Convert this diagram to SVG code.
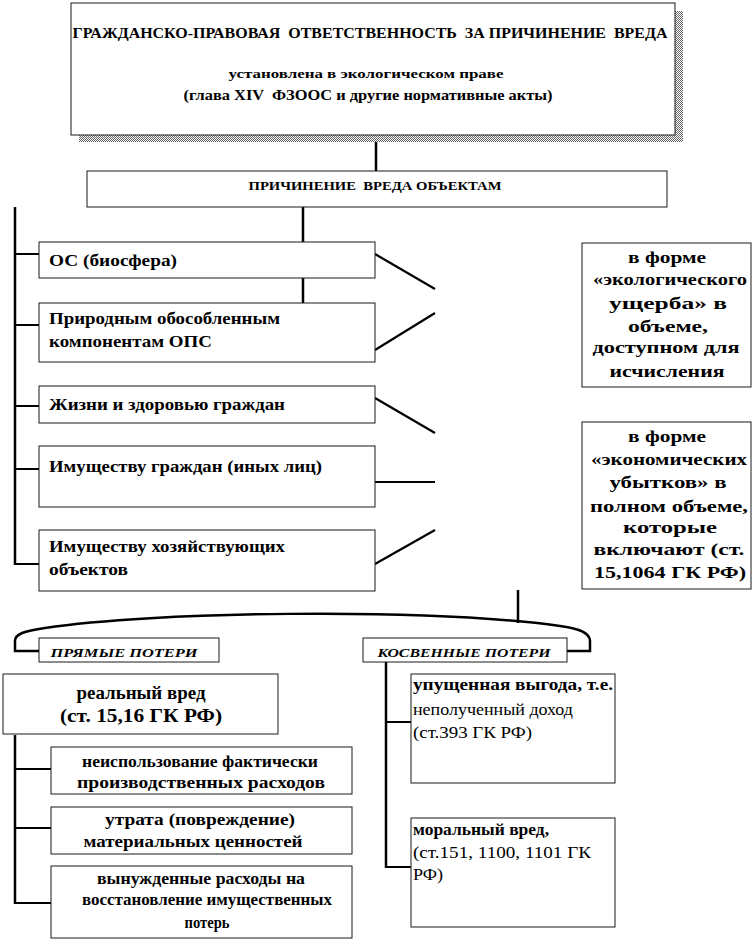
<svg xmlns="http://www.w3.org/2000/svg" width="753" height="941" viewBox="0 0 753 941">
<defs>
<pattern id="shade" width="2" height="2" patternUnits="userSpaceOnUse">
<rect width="2" height="2" fill="#ffffff"/>
<rect width="1" height="1" fill="#666666"/>
<rect x="1" y="1" width="1" height="1" fill="#666666"/>
</pattern>
</defs>
<style>
.box{fill:#ffffff;stroke:#1a1a1a;stroke-width:1}
.t{font-weight:bold;fill:#000000}
.n{font-weight:normal}
.i{font-style:italic}
.c{text-anchor:middle}
.ln{fill:none;stroke:#000000;stroke-width:2.5;stroke-linecap:butt}
.dg{fill:none;stroke:#000000;stroke-width:2.2}
.tk{fill:none;stroke:#000000;stroke-width:2}
</style>
<g id="connectors">
<line class="ln" x1="376" y1="135" x2="376" y2="171"/>
<line class="ln" x1="303" y1="207" x2="303" y2="242"/>
<line class="ln" x1="303" y1="278" x2="303" y2="303"/>
<line class="ln" x1="15" y1="207" x2="15" y2="565"/>
<line class="tk" x1="15" y1="254" x2="39" y2="254"/>
<line class="tk" x1="15" y1="325" x2="39" y2="325"/>
<line class="tk" x1="15" y1="406" x2="39" y2="406"/>
<line class="tk" x1="15" y1="469" x2="39" y2="469"/>
<line class="tk" x1="15" y1="564" x2="39" y2="564"/>
<line class="dg" x1="375" y1="254" x2="435" y2="289"/>
<line class="dg" x1="375" y1="350" x2="435" y2="313"/>
<line class="dg" x1="375" y1="398" x2="435" y2="433"/>
<line class="dg" x1="375" y1="482" x2="435" y2="482"/>
<line class="dg" x1="375" y1="564" x2="435" y2="530"/>
<line class="ln" x1="518" y1="590" x2="518" y2="623"/>
<path class="ln" d="M39 651 L15 651 L15 641 C15 634 24 631 45 628 C150 612 420 607 560 626 C583 629 590 634 590 641 L590 651 L567 651"/>
<line class="ln" x1="15" y1="735" x2="15" y2="904"/>
<line class="tk" x1="15" y1="769" x2="51" y2="769"/>
<line class="tk" x1="15" y1="828" x2="51" y2="828"/>
<line class="tk" x1="15" y1="903" x2="51" y2="903"/>
<line class="ln" x1="386" y1="662" x2="386" y2="868"/>
<line class="tk" x1="386" y1="722" x2="411" y2="722"/>
<line class="tk" x1="386" y1="867" x2="411" y2="867"/>
</g>
<g font-family="Liberation Serif, Times New Roman, serif">
<g id="n_top">
<rect x="79" y="11" width="604" height="131" fill="url(#shade)"/>
<rect class="box" x="71" y="3" width="604" height="132"/>
<text class="t c" x="370" y="38" font-size="15" textLength="595" lengthAdjust="spacingAndGlyphs" xml:space="preserve">ГРАЖДАНСКО-ПРАВОВАЯ  ОТВЕТСТВЕННОСТЬ  ЗА ПРИЧИНЕНИЕ  ВРЕДА</text>
<text class="t c" x="366" y="78" font-size="13" textLength="275" lengthAdjust="spacingAndGlyphs">установлена в экологическом праве</text>
<text class="t c" x="368" y="100" font-size="14" textLength="369" lengthAdjust="spacingAndGlyphs" xml:space="preserve">(глава XIV  ФЗООС и другие нормативные акты)</text>
</g>
<g id="n_cause">
<rect class="box" x="87" y="171" width="580" height="36"/>
<text class="t c" x="375" y="190" font-size="12" textLength="253" lengthAdjust="spacingAndGlyphs" xml:space="preserve">ПРИЧИНЕНИЕ  ВРЕДА ОБЪЕКТАМ</text>
</g>
<g id="n_os">
<rect class="box" x="39" y="242" width="336" height="36"/>
<text class="t" x="49" y="266" font-size="17" textLength="128" lengthAdjust="spacingAndGlyphs">ОС (биосфера)</text>
</g>
<g id="n_nat">
<rect class="box" x="39" y="303" width="336" height="59"/>
<text class="t" x="49" y="324" font-size="17" textLength="231" lengthAdjust="spacingAndGlyphs">Природным обособленным</text>
<text class="t" x="49" y="347" font-size="17" textLength="163" lengthAdjust="spacingAndGlyphs">компонентам ОПС</text>
</g>
<g id="n_life">
<rect class="box" x="39" y="386" width="336" height="37"/>
<text class="t" x="49" y="410" font-size="17" textLength="236" lengthAdjust="spacingAndGlyphs">Жизни и здоровью граждан</text>
</g>
<g id="n_propc">
<rect class="box" x="39" y="446" width="336" height="61"/>
<text class="t" x="49" y="472" font-size="17" textLength="273" lengthAdjust="spacingAndGlyphs">Имуществу граждан (иных лиц)</text>
</g>
<g id="n_propb">
<rect class="box" x="39" y="530" width="336" height="61"/>
<text class="t" x="49" y="552" font-size="17" textLength="236" lengthAdjust="spacingAndGlyphs">Имуществу хозяйствующих</text>
<text class="t" x="49" y="575" font-size="17" textLength="79" lengthAdjust="spacingAndGlyphs">объектов</text>
</g>
<g id="n_eco">
<rect class="box" x="582" y="243" width="169" height="144"/>
<text class="t c" x="667" y="263" font-size="17" textLength="78" lengthAdjust="spacingAndGlyphs">в форме</text>
<text class="t c" x="670" y="285" font-size="17" textLength="154" lengthAdjust="spacingAndGlyphs">«экологического</text>
<text class="t c" x="668" y="309" font-size="17" textLength="118" lengthAdjust="spacingAndGlyphs">ущерба» в</text>
<text class="t c" x="668" y="332" font-size="17" textLength="80" lengthAdjust="spacingAndGlyphs">объеме,</text>
<text class="t c" x="666" y="353" font-size="17" textLength="147" lengthAdjust="spacingAndGlyphs">доступном для</text>
<text class="t c" x="667" y="377" font-size="17" textLength="115" lengthAdjust="spacingAndGlyphs">исчисления</text>
</g>
<g id="n_econ">
<rect class="box" x="582" y="422" width="169" height="167"/>
<text class="t c" x="667" y="442" font-size="17" textLength="78" lengthAdjust="spacingAndGlyphs">в форме</text>
<text class="t c" x="669" y="465" font-size="17" textLength="156" lengthAdjust="spacingAndGlyphs">«экономических</text>
<text class="t c" x="668" y="488" font-size="17" textLength="117" lengthAdjust="spacingAndGlyphs">убытков» в</text>
<text class="t c" x="669" y="512" font-size="17" textLength="158" lengthAdjust="spacingAndGlyphs">полном объеме,</text>
<text class="t c" x="670" y="533" font-size="17" textLength="94" lengthAdjust="spacingAndGlyphs">которые</text>
<text class="t c" x="669" y="555" font-size="17" textLength="151" lengthAdjust="spacingAndGlyphs">включают (ст.</text>
<text class="t c" x="670" y="578" font-size="17" textLength="152" lengthAdjust="spacingAndGlyphs">15,1064 ГК РФ)</text>
</g>
<g id="n_direct">
<rect class="box" x="39" y="638" width="180" height="24"/>
<text class="t i c" x="124" y="657" font-size="13" textLength="147" lengthAdjust="spacingAndGlyphs">ПРЯМЫЕ ПОТЕРИ</text>
</g>
<g id="n_indirect">
<rect class="box" x="363" y="638" width="204" height="24"/>
<text class="t i c" x="464" y="657" font-size="13" textLength="173" lengthAdjust="spacingAndGlyphs">КОСВЕННЫЕ ПОТЕРИ</text>
</g>
<g id="n_real">
<rect class="box" x="3" y="674" width="275" height="60"/>
<text class="t c" x="141" y="699" font-size="18" textLength="129" lengthAdjust="spacingAndGlyphs">реальный вред</text>
<text class="t c" x="141" y="722" font-size="18" textLength="162" lengthAdjust="spacingAndGlyphs">(ст. 15,16 ГК РФ)</text>
</g>
<g id="n_unused">
<rect class="box" x="51" y="747" width="301" height="47"/>
<text class="t c" x="200" y="767" font-size="16" textLength="236" lengthAdjust="spacingAndGlyphs">неиспользование фактически</text>
<text class="t c" x="201" y="788" font-size="16" textLength="248" lengthAdjust="spacingAndGlyphs">производственных расходов</text>
</g>
<g id="n_loss">
<rect class="box" x="51" y="807" width="301" height="47"/>
<text class="t c" x="200" y="825" font-size="16" textLength="190" lengthAdjust="spacingAndGlyphs">утрата (повреждение)</text>
<text class="t c" x="193" y="847" font-size="16" textLength="219" lengthAdjust="spacingAndGlyphs">материальных ценностей</text>
</g>
<g id="n_forced">
<rect class="box" x="51" y="866" width="301" height="72"/>
<text class="t c" x="201" y="884" font-size="16" textLength="208" lengthAdjust="spacingAndGlyphs">вынужденные расходы на</text>
<text class="t c" x="207" y="905" font-size="16" textLength="250" lengthAdjust="spacingAndGlyphs">восстановление имущественных</text>
<text class="t c" x="207" y="928" font-size="16" textLength="45" lengthAdjust="spacingAndGlyphs">потерь</text>
</g>
<g id="n_lost">
<rect class="box" x="411" y="674" width="204" height="109"/>
<text class="t" x="413" y="690" font-size="17" textLength="200" lengthAdjust="spacingAndGlyphs">упущенная выгода, т.е.</text>
<text class="t n" x="413" y="715" font-size="17" textLength="160" lengthAdjust="spacingAndGlyphs">неполученный доход</text>
<text class="t n" x="413" y="738" font-size="17" textLength="119" lengthAdjust="spacingAndGlyphs">(ст.393 ГК РФ)</text>
</g>
<g id="n_moral">
<rect class="box" x="411" y="818" width="204" height="109"/>
<text class="t" x="413" y="835" font-size="17" textLength="136" lengthAdjust="spacingAndGlyphs">моральный вред,</text>
<text class="t n" x="413" y="858" font-size="17" textLength="178" lengthAdjust="spacingAndGlyphs">(ст.151, 1100, 1101 ГК</text>
<text class="t n" x="413" y="880" font-size="17" textLength="30" lengthAdjust="spacingAndGlyphs">РФ)</text>
</g>
</g>
</svg>
